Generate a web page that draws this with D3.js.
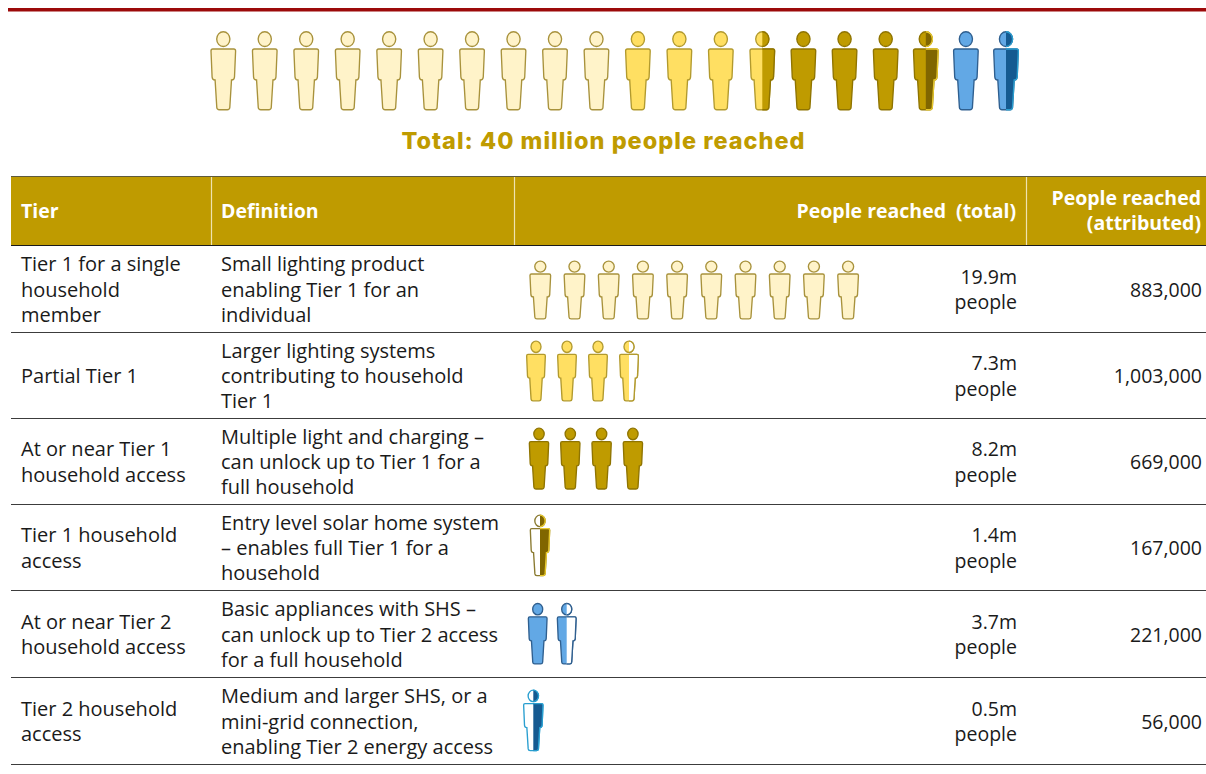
<!DOCTYPE html>
<html>
<head>
<meta charset="utf-8">
<script src="https://cdn.jsdelivr.net/npm/d3@7"></script>
<style>
html,body{margin:0;padding:0;background:#fff;}
svg{display:block;}
text{font-family:"Open Sans",sans-serif;}
</style>
</head>
<body>
<svg id="chart" width="1206" height="774"></svg>
<script>
// Table contents
const tierLabels = [
  ["Tier 1 for a single","household","member"],
  ["Partial Tier 1"],
  ["At or near Tier 1","household access"],
  ["Tier 1 household","access"],
  ["At or near Tier 2","household access"],
  ["Tier 2 household","access"]
];
const definitions = [
  ["Small lighting product","enabling Tier 1 for an","individual"],
  ["Larger lighting systems","contributing to household","Tier 1"],
  ["Multiple light and charging –","can unlock up to Tier 1 for a","full household"],
  ["Entry level solar home system","– enables full Tier 1 for a","household"],
  ["Basic appliances with SHS –","can unlock up to Tier 2 access","for a full household"],
  ["Medium and larger SHS, or a","mini-grid connection,","enabling Tier 2 energy access"]
];
const peopleTotal = [19.9, 7.3, 8.2, 1.4, 3.7, 0.5];
const peopleAttributed = [883000, 1003000, 669000, 167000, 221000, 56000];
// One pictogram stands for roughly two million people, in half-figure steps
const figureCounts = [10, 3.5, 4, 0.5, 1.5, 0.5];
const headers = ["Tier","Definition"];
const titleText = "Total: 40 million people reached";

// Colours per tier: body fill and outline
const tierFill = ["#fff3c9","#ffdf62","#bf9b00","#806600","#62a8e5","#155a91"];
const tierEdge = ["#a8923c","#b29a2e","#8f7400","#e8c92e","#2f5f8f","#2a9fd0"];
const gold = "#bf9b00";

const svg = d3.select("#chart");
const rowEdges = [245,332,418,504,590,677,764];
const colEdges = [11,211,514,1026,1206];
const yRow = d3.scaleOrdinal().domain(d3.range(6)).range(d3.pairs(rowEdges));

// Person outline in a 78.5-unit-tall frame, x centred on 0
function personBody(){
  const p = d3.path();
  p.moveTo(-10.5,17.5);
  p.lineTo(10.5,17.5);
  p.quadraticCurveTo(12.3,17.5,12.3,19.5);
  p.lineTo(11.2,45.5);
  p.quadraticCurveTo(11,48.5,8.4,48.5);
  p.lineTo(8.2,48.5);
  p.lineTo(6.5,76);
  p.quadraticCurveTo(6.3,78.2,4,78.2);
  p.lineTo(-4,78.2);
  p.quadraticCurveTo(-6.3,78.2,-6.5,76);
  p.lineTo(-8.2,48.5);
  p.lineTo(-8.4,48.5);
  p.quadraticCurveTo(-11,48.5,-11.2,45.5);
  p.lineTo(-12.3,19.5);
  p.quadraticCurveTo(-12.3,17.5,-10.5,17.5);
  p.closePath();
  return p.toString();
}
const bodyPath = personBody();

svg.append("defs").append("clipPath").attr("id","rightHalf")
  .append("rect").attr("x",0).attr("y",-2).attr("width",20).attr("height",84);

// Draw one figure: the left half's look covers the whole shape,
// and a differing right half is laid over it through a clip
function drawPerson(g, cx, top, kx, ky, left, right){
  const f = g.append("g").attr("transform",`translate(${cx},${top}) scale(${kx},${ky})`);
  const shape = (side, clipped)=>{
    const s = f.append("g").attr("fill",side.fill).attr("stroke",side.edge);
    if(clipped) s.attr("clip-path","url(#rightHalf)");
    s.append("ellipse").attr("cx",0).attr("cy",7.6).attr("rx",6.6).attr("ry",7.4);
    s.append("path").attr("d",bodyPath);
    s.selectAll("*").attr("stroke-width",1.35).attr("vector-effect","non-scaling-stroke");
  };
  shape(left,false);
  if(left.fill!==right.fill || left.edge!==right.edge) shape(right,true);
}

// Top strip: the six tiers laid end to end as one row of twenty figures
function stripSequence(){
  const halves = [];
  figureCounts.forEach((n,i)=>{ for(let h=0;h<Math.round(n*2);h++) halves.push(i); });
  const seq = [];
  for(let i=0;i<halves.length;i+=2) seq.push([halves[i],halves[i+1]]);
  return seq;
}
const strip = stripSequence();
const xStrip = d3.scaleLinear().domain([0,13,16,19]).range([223.3,762.3,885.7,1006]);
const stripG = svg.append("g");
strip.forEach(([a,b],i)=>{
  drawPerson(stripG, xStrip(i), 31.5, 1, 1,
    {fill:tierFill[a],edge:tierEdge[a]},
    {fill:tierFill[b],edge:tierEdge[b]});
});

// Top rule and title
svg.append("rect").attr("x",8).attr("y",8).attr("width",1198).attr("height",3.5).attr("fill","#9c0a0a");
svg.append("text").attr("x",603.5).attr("y",148.5).attr("text-anchor","middle")
  .style("font-family","Inter").style("font-weight",800).style("font-size","23.5px")
  .style("letter-spacing","1px")
  .attr("fill",gold).text(titleText);

// Header band
svg.append("rect").attr("x",colEdges[0]).attr("y",177).attr("width",colEdges[4]-colEdges[0]).attr("height",68).attr("fill",gold);
svg.append("line").attr("x1",colEdges[0]).attr("x2",colEdges[4]).attr("y1",176.5).attr("y2",176.5).attr("stroke","#5e5a3c").attr("stroke-width",1);
colEdges.slice(1,4).forEach(x=>{
  svg.append("line").attr("x1",x+.5).attr("x2",x+.5).attr("y1",177).attr("y2",245).attr("stroke","#efe3b0").attr("stroke-width",1.2);
});
function headText(x,y,anchor,t){
  return svg.append("text").attr("x",x).attr("y",y).attr("text-anchor",anchor)
    .style("font-weight",700).style("font-size","19.5px").attr("fill","#fff").text(t);
}
svg.append("line").attr("x1",colEdges[0]).attr("x2",colEdges[4]).attr("y1",245.5).attr("y2",245.5).attr("stroke","#1a1a1a").attr("stroke-width",1);
headText(21,218,"start",headers[0]);
headText(221,218,"start",headers[1]);
const totalHead = headText(1016,218,"end","People reached");
totalHead.append("tspan").attr("dx",10).text("(total)");
headText(1201,205,"end","People reached");
headText(1201,230,"end","(attributed)");

// Table body
const fmt = d3.format(",");
const lineH = 25.4;
function lines(x,yMid,anchor,arr,size){
  const t = svg.append("text").attr("text-anchor",anchor).style("font-size",size+"px").attr("fill","#1a1a1a");
  const y0 = yMid - (arr.length-1)*lineH/2 + 8;
  arr.forEach((s,i)=>t.append("tspan").attr("x",x).attr("y",y0+i*lineH).text(s));
}
// Figure placement per row: first centre, spacing, top of head, horizontal and vertical scale
const rowFigures = [
  {x:540.3,dx:34.2,top:261,kx:0.84,ky:0.74},
  {x:536,dx:31,top:341,kx:0.76,ky:0.765},
  {x:539,dx:31.3,top:428,kx:0.785,ky:0.78},
  {x:540,dx:0,top:515,kx:0.785,ky:0.775},
  {x:537.7,dx:29,top:603.3,kx:0.76,ky:0.775},
  {x:533.3,dx:0,top:690,kx:0.785,ky:0.775}
];
// How the partly filled figure in a row is split: left half, right half
const splitHalves = [
  null,
  [{fill:tierFill[1],edge:tierEdge[1]},{fill:"#fff",edge:tierEdge[1]}],
  null,
  [{fill:"#fff",edge:"#8a7a30"},{fill:tierFill[3],edge:tierEdge[3]}],
  [{fill:tierFill[4],edge:tierEdge[4]},{fill:"#fff",edge:tierEdge[4]}],
  [{fill:"#fff",edge:tierEdge[5]},{fill:tierFill[5],edge:tierEdge[5]}]
];

tierLabels.forEach((lab,i)=>{
  const [y0,y1] = yRow(i);
  const mid = (y0+y1)/2;
  svg.append("line").attr("x1",colEdges[0]).attr("x2",colEdges[4]).attr("y1",y1+.5).attr("y2",y1+.5)
    .attr("stroke","#3c3c3c").attr("stroke-width",1);
  lines(21,mid,"start",lab,20);
  lines(221,mid,"start",definitions[i],20);
  lines(1017,mid,"end",[peopleTotal[i]+"m","people"],19.5);
  lines(1202,mid,"end",[fmt(peopleAttributed[i])],19.5);

  const rf = rowFigures[i];
  const n = figureCounts[i];
  const xFig = d3.scaleLinear().domain([0,1]).range([rf.x,rf.x+rf.dx]);
  const g = svg.append("g");
  d3.range(Math.ceil(n)).forEach(j=>{
    const partial = j+1>n;
    const whole = {fill:tierFill[i],edge:tierEdge[i]};
    const [a,b] = partial?splitHalves[i]:[whole,whole];
    drawPerson(g,xFig(j),rf.top,rf.kx,rf.ky,a,b);
  });
});
</script>
</body>
</html>
